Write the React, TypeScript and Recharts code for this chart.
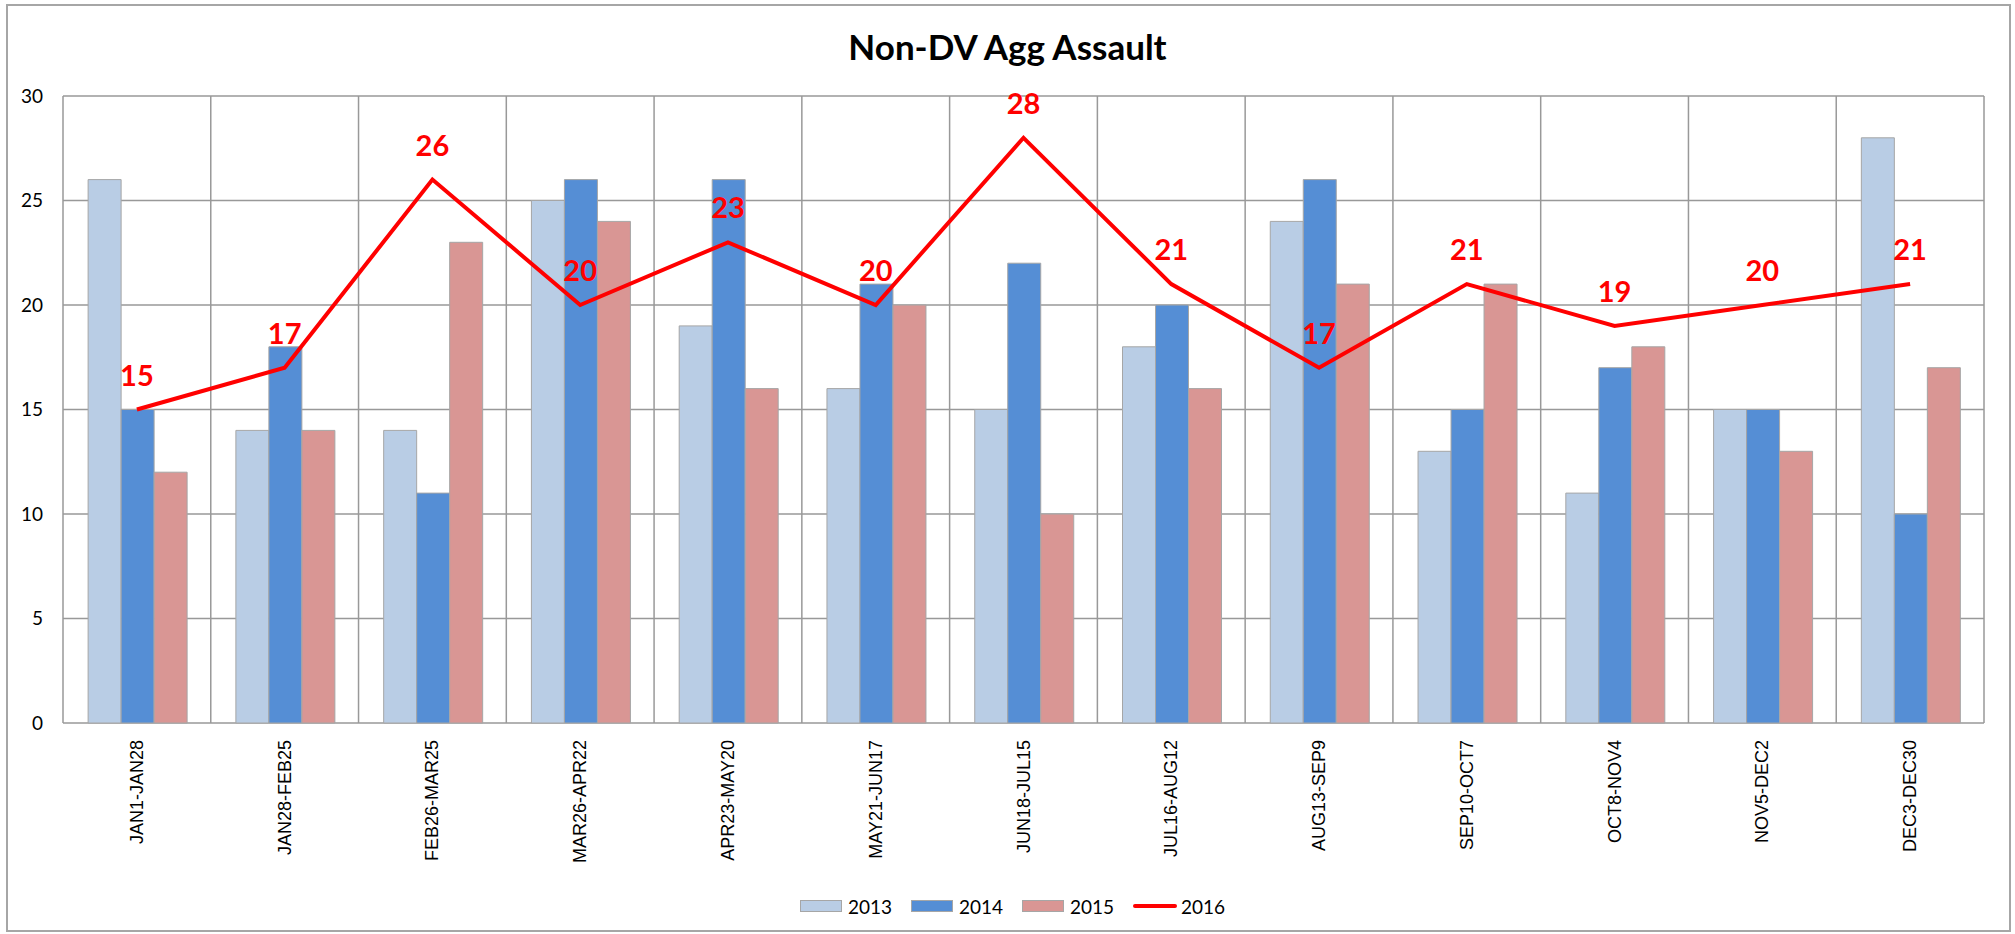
import { ComposedChart, Bar, Line, XAxis, YAxis, CartesianGrid, LabelList } from 'recharts';

const periods = [
  'JAN1-JAN28', 'JAN28-FEB25', 'FEB26-MAR25', 'MAR26-APR22', 'APR23-MAY20', 'MAY21-JUN17',
  'JUN18-JUL15', 'JUL16-AUG12', 'AUG13-SEP9', 'SEP10-OCT7', 'OCT8-NOV4', 'NOV5-DEC2', 'DEC3-DEC30',
];
const y2013 = [26, 14, 14, 25, 19, 16, 15, 18, 24, 13, 11, 15, 28];
const y2014 = [15, 18, 11, 26, 26, 21, 22, 20, 26, 15, 17, 15, 10];
const y2015 = [12, 14, 23, 24, 16, 20, 10, 16, 21, 21, 18, 13, 17];
const y2016 = [15, 17, 26, 20, 23, 20, 28, 21, 17, 21, 19, 20, 21];
const yTicks = [0, 5, 10, 15, 20, 25, 30];
const seriesNames = ['2013', '2014', '2015', '2016'];

const colors = ['#B9CDE5', '#558ED5', '#D99694', '#FF0000'];
const gridColor = '#999999';
const font = 'Lato, "Open Sans", sans-serif';

const data = periods.map((p, i) => ({
  period: p,
  '2013': y2013[i],
  '2014': y2014[i],
  '2015': y2015[i],
  '2016': y2016[i],
}));

// rotated category labels, reading bottom to top, ending just under the plot
const XTick = (props: any) => {
  const { x, y, payload } = props;
  return (
    <text
      transform={`translate(${x + 6},${y + 17}) rotate(-90)`}
      textAnchor="end"
      fontSize={18}
      fontFamily='"Liberation Sans", Arial, sans-serif'
      fill="#000"
    >
      {payload.value}
    </text>
  );
};

const PointLabel = (props: any) => {
  const { x, y, value } = props;
  return (
    <text x={x} y={y - 24} textAnchor="middle" fontSize={29} fontWeight={700} fontFamily={font} fill="#FF0000">
      {value}
    </text>
  );
};

const LegendRow = () => (
  <div
    style={{
      position: 'absolute', top: 894, left: 800, display: 'flex', alignItems: 'center',
      fontFamily: font, fontSize: 19, color: '#000', height: 24,
    }}
  >
    {seriesNames.map((name, i) => (
      <div key={name} style={{ display: 'flex', alignItems: 'center', width: 111 }}>
        {i < 3 ? (
          <div style={{ width: 40, height: 10, background: colors[i], border: '1px solid #A6A6A6' }} />
        ) : (
          <div style={{ width: 44, height: 4, background: colors[i], borderRadius: 2, marginRight: -2 }} />
        )}
        <span style={{ marginLeft: 6 }}>{name}</span>
      </div>
    ))}
  </div>
);

export default function App() {
  return (
    <div style={{ position: 'absolute', left: 0, top: 0, width: 2015, height: 934, background: '#fff' }}>
      <div
        style={{
          position: 'absolute', left: 6, top: 4, width: 2001, height: 924,
          border: '2px solid #A6A6A6',
        }}
      />
      <div
        style={{
          position: 'absolute', left: 0, top: 26, width: 2015, textAlign: 'center',
          lineHeight: '40px', fontSize: 35, fontWeight: 700, fontFamily: font, color: '#000',
        }}
      >
        Non-DV Agg Assault
      </div>
      <div style={{ position: 'absolute', left: 0, top: 0 }}>
        <ComposedChart
          width={2015}
          height={934}
          data={data}
          margin={{ top: 96, right: 31, bottom: 0, left: 0 }}
          barCategoryGap="17%"
          barGap={0}
        >
          <CartesianGrid
            stroke={gridColor}
            strokeWidth={1.5}
            fill="none"
            verticalCoordinatesGenerator={({ offset }: any) =>
              periods.map((_, i) => offset.left + (i * offset.width) / periods.length).concat(offset.left + offset.width)
            }
          />
          <XAxis
            dataKey="period"
            height={211}
            interval={0}
            tickLine={false}
            axisLine={false}
            tickSize={0}
            tickMargin={0}
            tick={<XTick />}
          />
          <YAxis
            width={63}
            domain={[0, 30]}
            ticks={yTicks}
            interval={0}
            tickLine={false}
            axisLine={false}
            tickSize={0}
            tickMargin={20}
            tick={{ fontSize: 19, fontFamily: font, fill: '#000' }}
          />
          {seriesNames.slice(0, 3).map((name, i) => (
            <Bar key={name} dataKey={name} fill={colors[i]} stroke="#A6A6A6" strokeWidth={1} isAnimationActive={false} />
          ))}
          <Line
            dataKey="2016"
            stroke={colors[3]}
            strokeWidth={4}
            dot={false}
            activeDot={false}
            isAnimationActive={false}
          >
            <LabelList dataKey="2016" content={<PointLabel />} />
          </Line>
        </ComposedChart>
      </div>
      <LegendRow />
    </div>
  );
}
